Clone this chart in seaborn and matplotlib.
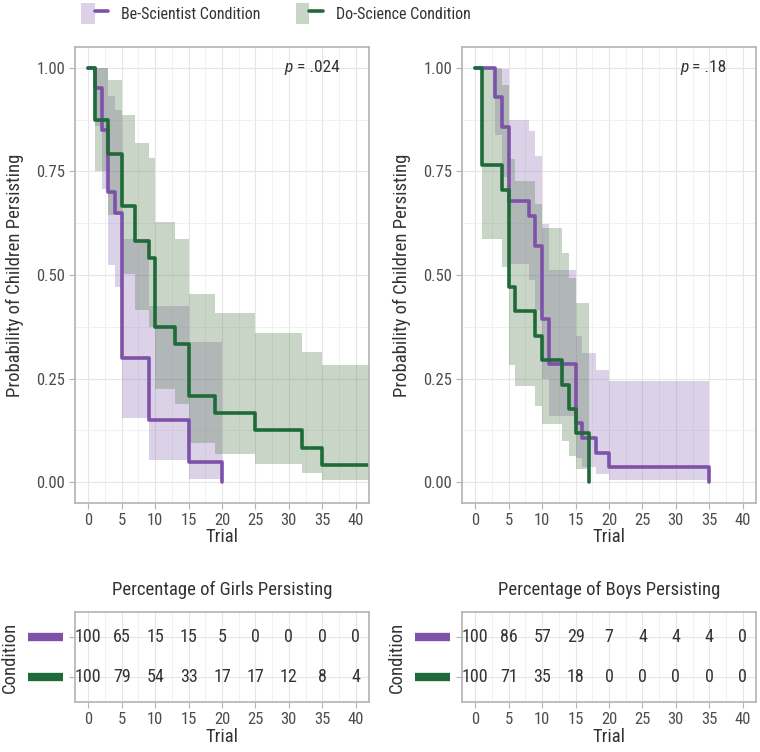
import numpy as np
import pandas as pd
import matplotlib.pyplot as plt
import seaborn as sns
from matplotlib import font_manager
from matplotlib.patches import Patch
from matplotlib.lines import Line2D
from matplotlib.legend_handler import HandlerTuple

# --- girls (left) ---
girls_be_t = [0, 1, 2, 3, 4, 5, 9, 15, 20]
girls_be_s = [1.0, 0.95, 0.85, 0.70, 0.65, 0.30, 0.15, 0.05, 0.0]
girls_be_lo = [1.0, 0.859, 0.707, 0.525, 0.471, 0.154, 0.053, 0.007, 0.007]
girls_be_hi = [1.0, 1.0, 1.0, 0.933, 0.897, 0.586, 0.426, 0.338, 0.338]

girls_do_t = [0, 1, 3, 5, 7, 9, 10, 13, 15, 19, 25, 32, 35, 42]
girls_do_s = [1.0, 0.875, 0.792, 0.667, 0.583, 0.542, 0.375, 0.333, 0.208, 0.167, 0.125, 0.083, 0.042, 0.042]
girls_do_lo = [1.0, 0.752, 0.644, 0.503, 0.416, 0.375, 0.224, 0.189, 0.095, 0.068, 0.043, 0.022, 0.006, 0.006]
girls_do_hi = [1.0, 1.0, 0.970, 0.885, 0.818, 0.783, 0.628, 0.587, 0.454, 0.408, 0.360, 0.314, 0.284, 0.284]

# --- boys (right) ---
boys_be_t = [0, 3, 4, 5, 8, 9, 10, 11, 15, 16, 18, 20, 35]
boys_be_s = [1.0, 0.929, 0.857, 0.679, 0.643, 0.571, 0.393, 0.286, 0.143, 0.107, 0.071, 0.036, 0.0]
boys_be_lo = [1.0, 0.838, 0.737, 0.526, 0.488, 0.415, 0.248, 0.159, 0.058, 0.037, 0.019, 0.005, 0.005]
boys_be_hi = [1.0, 1.0, 0.997, 0.875, 0.847, 0.787, 0.623, 0.513, 0.354, 0.312, 0.272, 0.245, 0.245]

boys_do_t = [0, 1, 4, 5, 6, 9, 10, 13, 14, 15, 17]
boys_do_s = [1.0, 0.765, 0.706, 0.471, 0.412, 0.353, 0.294, 0.235, 0.176, 0.118, 0.0]
boys_do_lo = [1.0, 0.588, 0.519, 0.284, 0.233, 0.185, 0.141, 0.100, 0.063, 0.032, 0.032]
boys_do_hi = [1.0, 0.996, 0.959, 0.779, 0.727, 0.672, 0.614, 0.554, 0.493, 0.432, 0.432]

# risk tables (percent persisting)
table_trials = [0, 5, 10, 15, 20, 25, 30, 35, 40]
girls_be_pct = [100, 65, 15, 15, 5, 0, 0, 0, 0]
girls_do_pct = [100, 79, 54, 33, 17, 17, 12, 8, 4]
boys_be_pct = [100, 86, 57, 29, 7, 4, 4, 4, 0]
boys_do_pct = [100, 71, 35, 18, 0, 0, 0, 0, 0]

p_values = [" = .024", " = .18"]

PURPLE = "#7d52a8"
GREEN = "#1e6a38"
PURPLE_FILL = "#8e6bb5"
GREEN_FILL = "#4f7a48"
TXT = "#333333"
TICK = "#4d4d4d"

sns.set_theme(style="whitegrid")

# pick a narrow face if one is installed
available = {f.name for f in font_manager.fontManager.ttflist}
families = []
for name in ['Liberation Sans Narrow', 'Roboto Condensed', 'Open Sans Condensed', 'Noto Sans Condensed']:
    if name in available:
        families.append(name)
families.append('DejaVu Sans')
plt.rcParams['font.family'] = families

fig = plt.figure(figsize=(7.6, 7.52), dpi=100)


def style_axes(ax):
    ax.set_xlim(-2, 42)
    ax.set_xticks(table_trials)
    ax.set_xticks(np.arange(2.5, 42, 5), minor=True)
    ax.grid(True, which='major', color='#e6e6e6', lw=0.8)
    ax.grid(True, which='minor', color='#efefef', lw=0.6)
    ax.tick_params(axis='both', which='major', direction='out', length=4, width=0.8,
                   color='#b3b3b3', labelsize=12, labelcolor=TICK, bottom=True, left=True, pad=3)
    ax.tick_params(which='minor', length=0)
    for s in ax.spines.values():
        s.set_color('#b3b3b3')
        s.set_linewidth(1.2)


def km_panel(rect, groups, pval):
    ax = fig.add_axes(rect)
    for t, s, lo, hi, col, fcol in groups:
        ax.fill_between(t, lo, hi, step='post', color=fcol, alpha=0.3, lw=0)
    for t, s, lo, hi, col, fcol in groups:
        df = pd.DataFrame({'Trial': t, 'surv': s})
        sns.lineplot(data=df, x='Trial', y='surv', ax=ax, color=col, lw=2.6,
                     drawstyle='steps-post', estimator=None, sort=False)
    style_axes(ax)
    ax.set_ylim(-0.05, 1.05)
    ax.set_yticks([0, 0.25, 0.5, 0.75, 1.0])
    ax.set_yticklabels(['0.00', '0.25', '0.50', '0.75', '1.00'])
    ax.set_yticks([0.125, 0.375, 0.625, 0.875], minor=True)
    ax.set_xlabel('Trial', fontsize=13.5, color=TXT, labelpad=0)
    ax.set_ylabel('Probability of Children Persisting', fontsize=13.5, color=TXT)
    ax.yaxis.set_label_coords(-0.175, 0.5)
    t = ax.text(37.6, 1.0, pval, ha='right', va='center', fontsize=12.5, color=TXT)
    ax.annotate('p', xycoords=t, xy=(0, 0.5), ha='right', va='center',
                fontsize=12.5, color=TXT, style='italic')
    return ax


def table_panel(rect, title, be, do):
    ax = fig.add_axes(rect)
    style_axes(ax)
    ax.set_ylim(0.4, 2.6)
    ax.set_yticks([1, 2])
    ax.set_yticklabels(['', ''])
    for x, v in zip(table_trials, be):
        ax.text(x, 2, str(v), ha='center', va='center', fontsize=13, color=TXT)
    for x, v in zip(table_trials, do):
        ax.text(x, 1, str(v), ha='center', va='center', fontsize=13, color=TXT)
    trans = ax.get_yaxis_transform()
    ax.plot([-0.16, -0.04], [2, 2], transform=trans, color=PURPLE, lw=6,
            solid_capstyle='butt', clip_on=False)
    ax.plot([-0.16, -0.04], [1, 1], transform=trans, color=GREEN, lw=6,
            solid_capstyle='butt', clip_on=False)
    ax.set_xlabel('Trial', fontsize=13.5, color=TXT, labelpad=1)
    ax.set_ylabel('Condition', fontsize=13.5, color=TXT)
    ax.yaxis.set_label_coords(-0.19, 0.5)
    ax.set_title(title, fontsize=13.5, color=TXT, pad=12)
    return ax


km_panel([0.0987, 0.3311, 0.3868, 0.6064],
         [(girls_be_t, girls_be_s, girls_be_lo, girls_be_hi, PURPLE, PURPLE_FILL),
          (girls_do_t, girls_do_s, girls_do_lo, girls_do_hi, GREEN, GREEN_FILL)],
         p_values[0])
km_panel([0.6079, 0.3311, 0.3868, 0.6064],
         [(boys_be_t, boys_be_s, boys_be_lo, boys_be_hi, PURPLE, PURPLE_FILL),
          (boys_do_t, boys_do_s, boys_do_lo, boys_do_hi, GREEN, GREEN_FILL)],
         p_values[1])

table_panel([0.0987, 0.0665, 0.3868, 0.1197], 'Percentage of Girls Persisting',
            girls_be_pct, girls_do_pct)
table_panel([0.6079, 0.0665, 0.3868, 0.1197], 'Percentage of Boys Persisting',
            boys_be_pct, boys_do_pct)

handles = [(Patch(facecolor=PURPLE_FILL, alpha=0.3, lw=0), Line2D([], [], color=PURPLE, lw=2.6)),
           (Patch(facecolor=GREEN_FILL, alpha=0.3, lw=0), Line2D([], [], color=GREEN, lw=2.6))]
fig.legend(handles, ['Be-Scientist Condition', 'Do-Science Condition'],
           handler_map={tuple: HandlerTuple(ndivide=None, pad=0)},
           loc='center left', bbox_to_anchor=(0.088, 0.982), ncol=2, frameon=False,
           fontsize=11.5, handlelength=1.7, handleheight=1.7, columnspacing=2.2,
           handletextpad=0.8, labelcolor=TXT)

fig.savefig('out.png', dpi=100)
